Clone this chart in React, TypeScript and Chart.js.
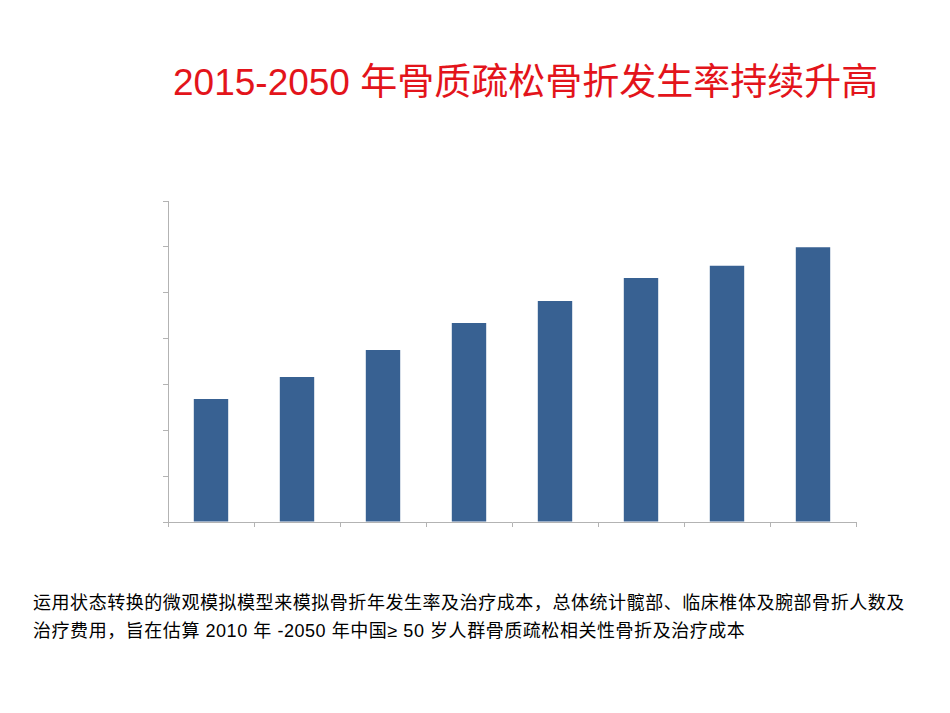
import { useEffect, useRef } from 'react';
import Chart from 'chart.js/auto';

const years = ['2015', '2020', '2025', '2030', '2035', '2040', '2045', '2050'];
const fractureRate = [26.8, 31.6, 37.5, 43.4, 48.2, 53.2, 55.9, 59.9];
const yMax = 70;
const yStep = 10;

const titleText = '2015-2050 年骨质疏松骨折发生率持续升高';
const captionLines = [
  '运用状态转换的微观模拟模型来模拟骨折年发生率及治疗成本，总体统计髋部、临床椎体及腕部骨折人数及',
  '治疗费用，旨在估算 2010 年 -2050 年中国≥ 50 岁人群骨质疏松相关性骨折及治疗成本',
];

const axisGray = '#b3b3b3';

const App: React.FC = () => {
  const canvasRef = useRef<HTMLCanvasElement>(null);
  const chartRef = useRef<Chart | null>(null);

  useEffect(() => {
    const ctx = canvasRef.current?.getContext('2d');
    if (!ctx) return;

    if (chartRef.current) {
      chartRef.current.destroy();
    }

    chartRef.current = new Chart(ctx, {
      type: 'bar',
      data: {
        labels: years,
        datasets: [
          {
            label: '骨质疏松骨折发生率',
            data: fractureRate,
            backgroundColor: '#386192',
            borderWidth: 0,
            categoryPercentage: 1,
            barPercentage: 0.4,
          },
        ],
      },
      options: {
        animation: false,
        responsive: false,
        maintainAspectRatio: false,
        layout: { padding: { left: 13, top: 11, right: 14, bottom: 8 } },
        plugins: {
          legend: { display: false },
          tooltip: { enabled: false },
          title: { display: false },
        },
        scales: {
          x: {
            grid: {
              display: true,
              drawOnChartArea: false,
              drawTicks: true,
              tickLength: 5,
              color: axisGray,
              offset: true,
            },
            border: { display: true, color: axisGray, width: 1 },
            ticks: { display: false },
          },
          y: {
            min: 0,
            max: yMax,
            grid: {
              display: true,
              drawOnChartArea: false,
              drawTicks: true,
              tickLength: 5,
              color: axisGray,
            },
            border: { display: true, color: axisGray, width: 1 },
            ticks: { display: false, stepSize: yStep },
          },
        },
      },
    });

    return () => {
      if (chartRef.current) {
        chartRef.current.destroy();
        chartRef.current = null;
      }
    };
  }, []);

  return (
    <div style={{ position: 'relative', width: 950, height: 713, margin: -8, background: '#fff' }}>
      <div
        style={{
          position: 'absolute',
          left: 173,
          top: 59,
          fontFamily: '"Liberation Sans", "Noto Sans CJK SC", sans-serif',
          fontSize: 37,
          color: '#e3141b',
          whiteSpace: 'nowrap',
          lineHeight: '48px',
        }}
      >
        {titleText}
      </div>
      <canvas
        ref={canvasRef}
        width={720}
        height={345}
        style={{ position: 'absolute', left: 150, top: 190, width: 720, height: 345 }}
      />
      <div
        style={{
          position: 'absolute',
          left: 33,
          top: 589,
          fontFamily: '"Liberation Sans", "Noto Sans CJK SC", sans-serif',
          fontSize: 18,
          letterSpacing: '0.55px',
          color: '#000',
          whiteSpace: 'nowrap',
          lineHeight: '28px',
        }}
      >
        {captionLines.map((line) => (
          <div key={line}>{line}</div>
        ))}
      </div>
    </div>
  );
};

export default App;
